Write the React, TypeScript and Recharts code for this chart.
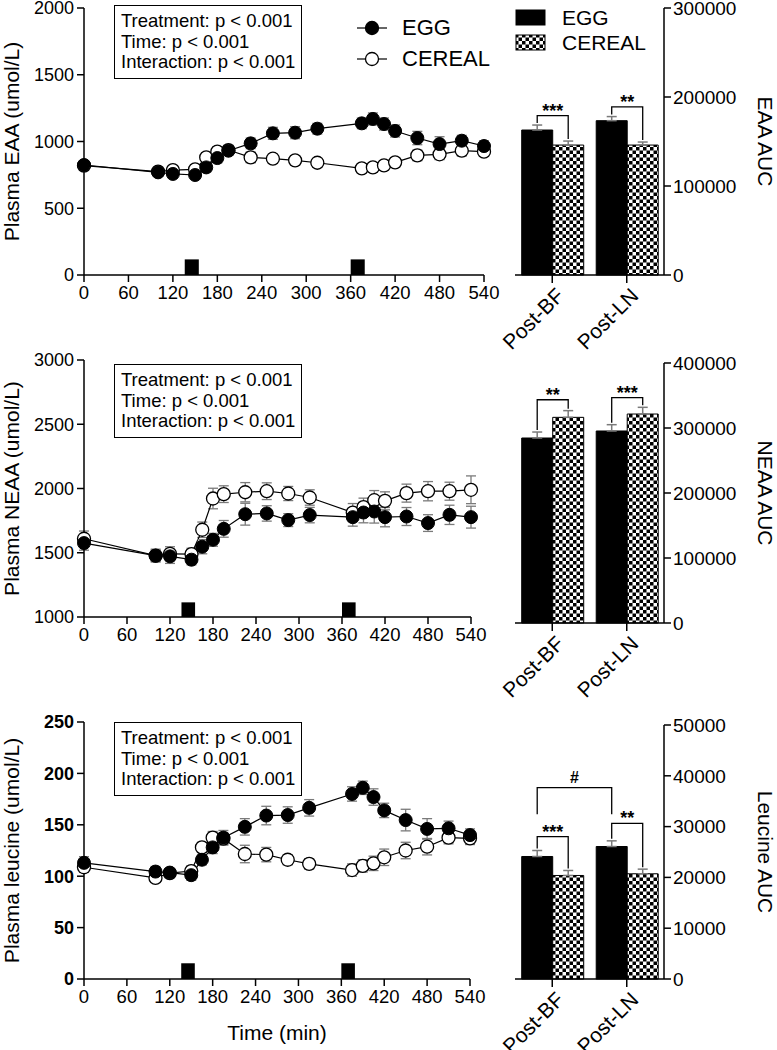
import React from "react";
import {
  ComposedChart,
  Line,
  XAxis,
  YAxis,
  ErrorBar,
  ReferenceArea,
  BarChart,
  Bar,
  LabelList,
} from "recharts";

const FONT = "'Liberation Sans', Arial, Helvetica, sans-serif";

// sampling times (min)
const times = [0, 100, 120, 150, 165, 180, 195, 225, 255, 285, 315, 375, 390, 405, 420, 450, 480, 510, 540];
const timeTicks = [0, 60, 120, 180, 240, 300, 360, 420, 480, 540];
const mealStart = [136, 360];
const mealEnd = [155, 379];

// plasma EAA
const eggEaa = [824, 769, 757, 749, 806, 876, 931, 986, 1061, 1066, 1096, 1136, 1169, 1131, 1079, 1026, 981, 1006, 966];
const eggEaaErr = [25, 30, 30, 30, 35, 35, 35, 40, 45, 45, 40, 40, 45, 45, 45, 50, 55, 40, 40];
const cerealEaa = [819, 775, 786, 791, 881, 924, 936, 881, 871, 859, 841, 799, 806, 821, 844, 896, 904, 931, 924];
const cerealEaaErr = [25, 30, 30, 30, 35, 35, 35, 40, 35, 35, 30, 30, 35, 35, 35, 40, 40, 40, 35];

// plasma NEAA
const eggNeaa = [1575, 1477, 1472, 1446, 1547, 1601, 1686, 1800, 1806, 1754, 1793, 1777, 1813, 1821, 1777, 1782, 1731, 1795, 1777];
const eggNeaaErr = [55, 45, 55, 40, 55, 50, 65, 85, 60, 50, 60, 70, 80, 90, 75, 70, 65, 75, 85];
const cerealNeaa = [1609, 1478, 1492, 1490, 1679, 1922, 1956, 1971, 1979, 1961, 1930, 1813, 1855, 1909, 1904, 1964, 1979, 1979, 1990];
const cerealNeaaErr = [60, 50, 55, 45, 60, 80, 65, 75, 65, 55, 60, 70, 70, 75, 70, 70, 75, 70, 108];

// plasma leucine
const eggLeu = [113, 104.5, 103.5, 101, 116, 128, 137.5, 148, 159, 159.5, 166.5, 180, 186, 177, 164, 154.6, 146, 146.6, 140];
const eggLeuErr = [6, 5, 4, 5, 5, 6, 7, 8, 9, 8, 8, 7, 6.5, 8, 7, 10.5, 10, 7, 6];
const cerealLeu = [108.7, 98.3, 103, 105, 128, 137.5, 136.5, 121.6, 121, 116, 112, 106, 110, 112.5, 118.4, 125, 128.7, 137.5, 136.8];
const cerealLeuErr = [5, 4, 4, 5, 5, 6, 6, 8.5, 7, 5, 5, 6, 6, 7, 8, 8, 8, 6, 6];

// AUC bars
const periods = ["Post-BF", "Post-LN"];
const eggEaaAuc = [162900, 173400];
const eggEaaAucErr = [5600, 4600];
const cerealEaaAuc = [146000, 146000];
const cerealEaaAucErr = [4500, 3400];
const eaaSigTop = [179000, 189000];
const eaaSig = ["***", "**"];

const eggNeaaAuc = [284600, 295400];
const eggNeaaAucErr = [9200, 9700];
const cerealNeaaAuc = [316400, 321500];
const cerealNeaaAucErr = [10300, 10300];
const neaaSigTop = [343500, 346600];
const neaaSig = ["**", "***"];

const eggLeuAuc = [24115, 26080];
const eggLeuAucErr = [1180, 1115];
const cerealLeuAuc = [20380, 20708];
const cerealLeuAucErr = [980, 917];
const leuSigTop = [28010, 30650];
const leuSig = ["***", "**"];
const leuHashTop = 37660;
const leuHashLeg = 32420;

const statLines = ["Treatment: p < 0.001", "Time: p < 0.001", "Interaction: p < 0.001"];

const ERR = "#7a7a7a";

type LineProps = {
  top: number;
  width: number;
  height: number;
  mt: number;
  mb: number;
  xh: number;
  yDomain: [number, number];
  yTicks: number[];
  yLabel: string;
  egg: number[];
  eggErr: number[];
  cereal: number[];
  cerealErr: number[];
  mealH: number;
  bold?: boolean;
  xLabel?: string;
};

const LinePanel = (p: LineProps) => {
  const data = times.map((t, i) => ({
    t,
    egg: p.egg[i],
    eggErr: p.eggErr[i],
    cereal: p.cereal[i],
    cerealErr: p.cerealErr[i],
  }));
  const tickStyle = { fill: "#000", fontSize: 18, fontWeight: p.bold ? "bold" : "normal" };
  return (
    <div style={{ position: "absolute", left: 0, top: p.top }}>
      <ComposedChart width={p.width} height={p.height} data={data} margin={{ top: p.mt, right: 16, bottom: p.mb, left: 0 }}>
        <XAxis
          dataKey="t"
          type="number"
          domain={[0, 540]}
          ticks={timeTicks}
          interval={0}
          height={p.xh}
          tickSize={7}
          tickMargin={4}
          axisLine={{ stroke: "#000", strokeWidth: 1.5 }}
          tickLine={{ stroke: "#000", strokeWidth: 1.5 }}
          tick={{ fill: "#000", fontSize: 18.5 }}
          label={
            p.xLabel
              ? { value: p.xLabel, position: "insideBottom", offset: 9, style: { fontSize: 21, fill: "#000" } }
              : undefined
          }
        />
        <YAxis
          type="number"
          domain={p.yDomain}
          ticks={p.yTicks}
          interval={0}
          width={84}
          tickSize={7}
          tickMargin={3}
          axisLine={{ stroke: "#000", strokeWidth: 1.5 }}
          tickLine={{ stroke: "#000", strokeWidth: 1.5 }}
          tick={tickStyle}
          label={{
            value: p.yLabel,
            angle: -90,
            position: "insideLeft",
            offset: 12,
            style: { textAnchor: "middle", fontSize: 21, fill: "#000" },
          }}
        />
        {mealStart.map((s, i) => (
          <ReferenceArea
            key={i}
            x1={s}
            x2={mealEnd[i]}
            y1={p.yDomain[0]}
            y2={p.yDomain[0] + p.mealH}
            fill="#000"
            fillOpacity={1}
            stroke="none"
          />
        ))}
        <Line
          dataKey="cereal"
          stroke="#000"
          strokeWidth={1.2}
          dot={{ r: 6.5, fill: "#fff", stroke: "#000", strokeWidth: 1.3 }}
          activeDot={false}
          isAnimationActive={false}
        >
          <ErrorBar dataKey="cerealErr" direction="y" width={5} stroke={ERR} strokeWidth={1.3} />
        </Line>
        <Line
          dataKey="egg"
          stroke="#000"
          strokeWidth={1.2}
          dot={{ r: 6.5, fill: "#000", stroke: "#000", strokeWidth: 1 }}
          activeDot={false}
          isAnimationActive={false}
        >
          <ErrorBar dataKey="eggErr" direction="y" width={5} stroke={ERR} strokeWidth={1.3} />
        </Line>
      </ComposedChart>
    </div>
  );
};

const boxOf = (props: any) => {
  const vb = props.viewBox && props.viewBox.width !== undefined ? props.viewBox : props;
  return { x: Number(vb.x), y: Number(vb.y), w: Number(vb.width), h: Number(vb.height) };
};

const makeSig = (egg: number[], eggErr: number[], cereal: number[], cerealErr: number[], tops: number[], labels: string[]) =>
  (props: any) => {
    const i = props.index;
    const { x, y, w, h } = boxOf(props);
    if (!isFinite(x) || !h) return null;
    const ppu = h / cereal[i];
    const base = y + h;
    const xl = x - w / 2;
    const xr = x + w / 2;
    const yt = base - tops[i] * ppu;
    const yl = base - (egg[i] + eggErr[i]) * ppu - 2;
    const yr = base - (cereal[i] + cerealErr[i]) * ppu - 2;
    return (
      <g>
        <polyline points={`${xl},${yl} ${xl},${yt} ${xr},${yt} ${xr},${yr}`} fill="none" stroke="#000" strokeWidth={1.3} />
        <text x={(xl + xr) / 2} y={yt + 1} textAnchor="middle" fontSize={18} fontWeight="bold" fill="#000">
          {labels[i]}
        </text>
      </g>
    );
  };

const hashStash: { x?: number } = {};
const makeHash = (egg: number[], top: number, leg: number) => (props: any) => {
  const i = props.index;
  const { x, y, w, h } = boxOf(props);
  if (!isFinite(x) || !h) return null;
  const cx = x + w / 2;
  if (i === 0) {
    hashStash.x = cx;
    return null;
  }
  const x0 = hashStash.x ?? cx;
  const ppu = h / egg[i];
  const base = y + h;
  const yt = base - top * ppu;
  const yl = base - leg * ppu;
  return (
    <g>
      <polyline points={`${x0},${yl} ${x0},${yt} ${cx},${yt} ${cx},${yl}`} fill="none" stroke="#000" strokeWidth={1.3} />
      <text x={(x0 + cx) / 2} y={yt - 5} textAnchor="middle" fontSize={16} fontWeight="bold" fill="#000">
        #
      </text>
    </g>
  );
};

const RotTick = (props: any) => {
  const { x, y, payload } = props;
  const ax = x + 13;
  const ay = y + 12;
  return (
    <text x={ax} y={ay} transform={`rotate(-45 ${ax} ${ay})`} textAnchor="end" fontSize={21} fill="#000">
      {payload.value}
    </text>
  );
};

type BarProps = {
  id: string;
  top: number;
  height: number;
  mt: number;
  xh: number;
  yMax: number;
  yTicks: number[];
  yLabel: string;
  egg: number[];
  eggErr: number[];
  cereal: number[];
  cerealErr: number[];
  sigTop: number[];
  sig: string[];
  hash?: boolean;
};

const BarPanel = (p: BarProps) => {
  const data = periods.map((name, i) => ({
    name,
    egg: p.egg[i],
    eggRange: [0, p.eggErr[i]],
    cereal: p.cereal[i],
    cerealRange: [0, p.cerealErr[i]],
  }));
  return (
    <div style={{ position: "absolute", left: 440, top: p.top }}>
      <BarChart
        width={337}
        height={p.height}
        data={data}
        margin={{ top: p.mt, right: 0, bottom: 0, left: 75 }}
        barCategoryGap="9%"
        barGap={0}
      >
        <defs>
          <pattern id={p.id} patternUnits="userSpaceOnUse" width={7} height={7}>
            <rect x={0} y={0} width={7} height={7} fill="#fff" />
            <rect x={0} y={0} width={3.5} height={3.5} fill="#000" />
            <rect x={3.5} y={3.5} width={3.5} height={3.5} fill="#000" />
          </pattern>
        </defs>
        <XAxis
          dataKey="name"
          height={p.xh}
          tickSize={8}
          tickMargin={2}
          interval={0}
          axisLine={{ stroke: "#000", strokeWidth: 1.5 }}
          tickLine={{ stroke: "#000", strokeWidth: 1.5 }}
          tick={<RotTick />}
        />
        <YAxis
          orientation="right"
          type="number"
          domain={[0, p.yMax]}
          ticks={p.yTicks}
          interval={0}
          width={113}
          tickSize={7}
          tickMargin={2}
          axisLine={{ stroke: "#000", strokeWidth: 1.5 }}
          tickLine={{ stroke: "#000", strokeWidth: 1.5 }}
          tick={{ fill: "#000", fontSize: 19 }}
          label={{
            value: p.yLabel,
            angle: 90,
            position: "insideRight",
            offset: 12,
            style: { textAnchor: "middle", fontSize: 21, fill: "#000" },
          }}
        />
        <Bar dataKey="egg" fill="#000" stroke="#000" strokeWidth={1} isAnimationActive={false}>
          <ErrorBar dataKey="eggRange" direction="y" width={5} stroke={ERR} strokeWidth={1.5} />
          {p.hash ? <LabelList dataKey="egg" content={makeHash(p.egg, leuHashTop, leuHashLeg)} /> : null}
        </Bar>
        <Bar dataKey="cereal" fill={`url(#${p.id})`} stroke="#000" strokeWidth={1} isAnimationActive={false}>
          <ErrorBar dataKey="cerealRange" direction="y" width={5} stroke={ERR} strokeWidth={1.5} />
          <LabelList
            dataKey="cereal"
            content={makeSig(p.egg, p.eggErr, p.cereal, p.cerealErr, p.sigTop, p.sig)}
          />
        </Bar>
      </BarChart>
    </div>
  );
};

const StatBox = ({ top }: { top: number }) => (
  <div
    style={{
      position: "absolute",
      left: 114,
      top,
      width: 188,
      height: 74,
      boxSizing: "border-box",
      border: "1.5px solid #000",
      padding: "5px 0 0 6px",
      fontSize: 18.5,
      lineHeight: "20.5px",
      background: "#fff",
      whiteSpace: "nowrap",
    }}
  >
    {statLines.map((s) => (
      <div key={s}>{s}</div>
    ))}
  </div>
);

const LineLegend = () => (
  <div style={{ position: "absolute", left: 355, top: 12 }}>
    {[
      { name: "EGG", fill: "#000" },
      { name: "CEREAL", fill: "#fff" },
    ].map((s) => (
      <div key={s.name} style={{ display: "flex", alignItems: "center", height: 31, fontSize: 22 }}>
        <svg width={34} height={16}>
          <line x1={2} y1={8} x2={32} y2={8} stroke="#000" strokeWidth={1.2} />
          <circle cx={17} cy={8} r={6.5} fill={s.fill} stroke="#000" strokeWidth={1.3} />
        </svg>
        <span style={{ marginLeft: 13 }}>{s.name}</span>
      </div>
    ))}
  </div>
);

const BarLegend = () => (
  <div style={{ position: "absolute", left: 515, top: 5 }}>
    {[
      { name: "EGG", fill: "#000" },
      { name: "CEREAL", fill: "url(#legchk)" },
    ].map((s) => (
      <div key={s.name} style={{ display: "flex", alignItems: "center", height: 25, fontSize: 21 }}>
        <svg width={31} height={17}>
          <defs>
            <pattern id="legchk" patternUnits="userSpaceOnUse" width={7} height={7}>
              <rect x={0} y={0} width={7} height={7} fill="#fff" />
              <rect x={0} y={0} width={3.5} height={3.5} fill="#000" />
              <rect x={3.5} y={3.5} width={3.5} height={3.5} fill="#000" />
            </pattern>
          </defs>
          <rect x={1} y={1} width={29} height={15} fill={s.fill} stroke="#000" strokeWidth={1} />
        </svg>
        <span style={{ marginLeft: 16 }}>{s.name}</span>
      </div>
    ))}
  </div>
);

export default function App() {
  return (
    <div
      style={{
        position: "absolute",
        left: 0,
        top: 0,
        width: 777,
        height: 1050,
        background: "#fff",
        fontFamily: FONT,
        color: "#000",
        overflow: "hidden",
      }}
    >
      <LinePanel
        top={0}
        width={500}
        height={310}
        mt={8}
        mb={5}
        xh={30}
        yDomain={[0, 2000]}
        yTicks={[0, 500, 1000, 1500, 2000]}
        yLabel="Plasma EAA (umol/L)"
        egg={eggEaa}
        eggErr={eggEaaErr}
        cereal={cerealEaa}
        cerealErr={cerealEaaErr}
        mealH={117}
      />
      <LinePanel
        top={330}
        width={487}
        height={317}
        mt={30}
        mb={0}
        xh={30}
        yDomain={[1000, 3000]}
        yTicks={[1000, 1500, 2000, 2500, 3000]}
        yLabel="Plasma NEAA (umol/L)"
        egg={eggNeaa}
        eggErr={eggNeaaErr}
        cereal={cerealNeaa}
        cerealErr={cerealNeaaErr}
        mealH={114}
      />
      <LinePanel
        top={650}
        width={486}
        height={400}
        mt={72}
        mb={1}
        xh={70}
        yDomain={[0, 250]}
        yTicks={[0, 50, 100, 150, 200, 250]}
        yLabel="Plasma leucine (umol/L)"
        egg={eggLeu}
        eggErr={eggLeuErr}
        cereal={cerealLeu}
        cerealErr={cerealLeuErr}
        mealH={15.3}
        bold
        xLabel="Time (min)"
      />
      <BarPanel
        id="chk1"
        top={0}
        height={350}
        mt={8}
        xh={75}
        yMax={300000}
        yTicks={[0, 100000, 200000, 300000]}
        yLabel="EAA AUC"
        egg={eggEaaAuc}
        eggErr={eggEaaAucErr}
        cereal={cerealEaaAuc}
        cerealErr={cerealEaaAucErr}
        sigTop={eaaSigTop}
        sig={eaaSig}
      />
      <BarPanel
        id="chk2"
        top={330}
        height={368}
        mt={33}
        xh={75}
        yMax={400000}
        yTicks={[0, 100000, 200000, 300000, 400000]}
        yLabel="NEAA AUC"
        egg={eggNeaaAuc}
        eggErr={eggNeaaAucErr}
        cereal={cerealNeaaAuc}
        cerealErr={cerealNeaaAucErr}
        sigTop={neaaSigTop}
        sig={neaaSig}
      />
      <BarPanel
        id="chk3"
        top={650}
        height={400}
        mt={75}
        xh={71}
        yMax={50000}
        yTicks={[0, 10000, 20000, 30000, 40000, 50000]}
        yLabel="Leucine AUC"
        egg={eggLeuAuc}
        eggErr={eggLeuAucErr}
        cereal={cerealLeuAuc}
        cerealErr={cerealLeuAucErr}
        sigTop={leuSigTop}
        sig={leuSig}
        hash
      />
      <StatBox top={5} />
      <StatBox top={364} />
      <StatBox top={722} />
      <LineLegend />
      <BarLegend />
    </div>
  );
}
